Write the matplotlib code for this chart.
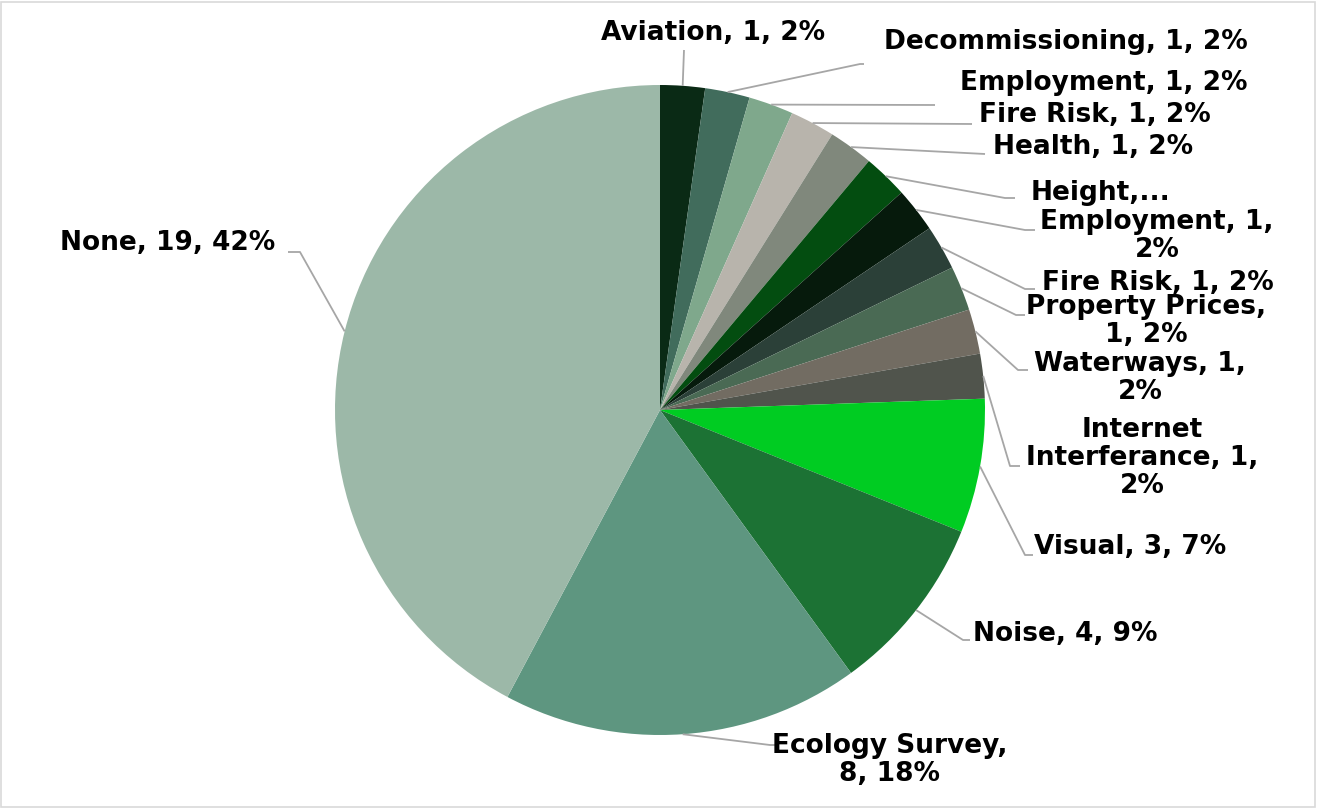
import numpy as np
import matplotlib.pyplot as plt
from matplotlib.patches import Rectangle

labels = ['Aviation', 'Decommissioning', 'Employment', 'Fire Risk', 'Health',
          'Height', 'Employment', 'Fire Risk', 'Property Prices', 'Waterways',
          'Internet Interferance', 'Visual', 'Noise', 'Ecology Survey', 'None']
counts = [1, 1, 1, 1, 1, 1, 1, 1, 1, 1, 1, 3, 4, 8, 19]
colors = ['#0a2a15', '#416c5c', '#7fa88c', '#b8b4ac', '#80887c',
          '#034d10', '#061a0c', '#2b4038', '#4a6a54', '#726c62',
          '#50544c', '#00cc22', '#1c7234', '#5e9680', '#9cb8a8']

# label text as shown (some wrapped / truncated like in the original)
label_text = ['Aviation, 1, 2%', 'Decommissioning, 1, 2%', 'Employment, 1, 2%',
              'Fire Risk, 1, 2%', 'Health, 1, 2%', 'Height,...',
              'Employment, 1,\n2%', 'Fire Risk, 1, 2%', 'Property Prices,\n1, 2%',
              'Waterways, 1,\n2%', 'Internet\nInterferance, 1,\n2%',
              'Visual, 3, 7%', 'Noise, 4, 9%', 'Ecology Survey,\n8, 18%',
              'None, 19, 42%']

# layout in pixels: text centre x, y, leader elbow x, y, leader end x
layout = [
    (713, 33, 684, 50, 684),
    (1066, 42, 860, 64, 864),
    (1104, 83, 935, 105, 935),
    (1095, 115, 972, 124, 972),
    (1093, 147, 985, 154, 985),
    (1101, 193, 1005, 198, 1015),
    (1157, 236, 1025, 230, 1035),
    (1158, 283, 1025, 289, 1035),
    (1146, 321, 1016, 315, 1025),
    (1140, 378, 1018, 370, 1028),
    (1142, 458, 1010, 466, 1020),
    (1130, 547, 1025, 555, 1033),
    (1065, 634, 963, 640, 970),
    (890, 760, 770, 745, 775),
    (168, 243, 300, 252, 288),
]

W, H = 1317, 808
CX, CY, R = 660, 410, 325


def px(x, y):
    return (x - CX) / R, (CY - y) / R


fig = plt.figure(figsize=(W / 100, H / 100), dpi=100)
ax = fig.add_axes([0, 0, 1, 1])

wedges, _ = ax.pie(counts, colors=colors, startangle=90, counterclock=False,
                   radius=1.0, wedgeprops=dict(edgecolor='none', linewidth=0))

ax.set_xlim(-CX / R, (W - CX) / R)
ax.set_ylim((CY - H) / R, CY / R)
ax.set_aspect('auto')
ax.axis('off')

line_col = '#a6a6a6'
for w, txt, (tx, ty, ex, ey, endx) in zip(wedges, label_text, layout):
    ang = np.deg2rad((w.theta1 + w.theta2) / 2)
    x0, y0 = np.cos(ang), np.sin(ang)
    x1, y1 = px(ex, ey)
    x2, _ = px(endx, ey)
    ax.plot([x0, x1, x2], [y0, y1, y1], color=line_col, lw=1.3,
            solid_capstyle='butt', zorder=1)
    lx, ly = px(tx, ty)
    ax.text(lx, ly, txt, ha='center', va='center', fontsize=19,
            fontweight='bold', color='black', linespacing=1.12)

fig.add_artist(Rectangle((1 / W, 1 / H), 1 - 3 / W, 1 - 3 / H,
                         transform=fig.transFigure, fill=False,
                         edgecolor='#d9d9d9', linewidth=1.2))

fig.savefig('out.png', dpi=100, facecolor='white')
